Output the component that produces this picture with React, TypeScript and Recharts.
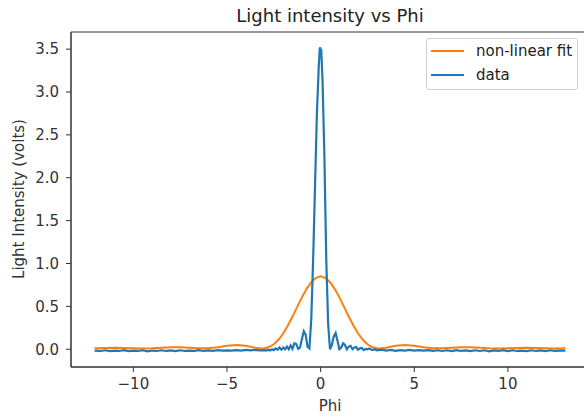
import React from 'react';
import { LineChart, Line, XAxis, YAxis, ReferenceArea } from 'recharts';

// measured data (blue)
const phiData = [
  -12.07, -11.75, -11.5, -11.25, -11.0, -10.75, -10.5, -10.25, -10.0, -9.75, -9.5, -9.25,
  -9.0, -8.75, -8.5, -8.25, -8.0, -7.75, -7.5, -7.25, -7.0, -6.75, -6.5, -6.25,
  -6.0, -5.75, -5.5, -5.25, -5.0, -4.75, -4.5, -4.25, -4.0, -3.75, -3.5, -3.25,
  -3.0, -2.9, -2.8, -2.7, -2.6, -2.5, -2.4, -2.3, -2.2, -2.1, -2.0, -1.9,
  -1.8, -1.7, -1.6, -1.5, -1.4, -1.3, -1.2, -1.1, -1.0, -0.9, -0.8, -0.7,
  -0.6, -0.5, -0.4, -0.3, -0.2, -0.1, -0.05, -0.02, 0.0, 0.03, 0.1, 0.2,
  0.3, 0.4, 0.5, 0.6, 0.7, 0.8, 0.9, 1.0, 1.1, 1.2, 1.3, 1.4,
  1.5, 1.6, 1.7, 1.8, 1.9, 2.0, 2.1, 2.2, 2.3, 2.4, 2.5, 2.6,
  2.75, 2.9, 3.0, 3.25, 3.5, 3.75, 4.0, 4.25, 4.5, 4.75, 5.0, 5.25,
  5.5, 5.75, 6.0, 6.25, 6.5, 6.75, 7.0, 7.25, 7.5, 7.75, 8.0, 8.25,
  8.5, 8.75, 9.0, 9.25, 9.5, 9.75, 10.0, 10.25, 10.5, 10.75, 11.0, 11.25,
  11.5, 11.75, 12.0, 12.25, 12.5, 12.75, 13.07,
];
const intensityData = [
  -0.015, -0.02, -0.012, -0.022, -0.015, -0.02, -0.01, -0.022, -0.016, -0.02, -0.012, -0.024,
  -0.015, -0.02, -0.012, -0.02, -0.014, -0.022, -0.012, -0.02, -0.015, -0.018, -0.01, -0.02,
  -0.013, -0.018, -0.01, -0.017, -0.012, -0.016, -0.01, -0.015, -0.008, -0.014, -0.008, -0.013,
  -0.01, -0.015, -0.005, -0.015, 0.0, -0.01, 0.01, -0.005, 0.02, -0.005, 0.02, 0.0,
  0.03, 0.0, 0.045, 0.005, 0.07, 0.06, 0.005, 0.02, 0.12, 0.21, 0.17, 0.03,
  0.01, 0.35, 1.05, 1.9, 2.75, 3.3, 3.5, 3.52, 3.45, 3.5, 3.15, 2.25,
  1.05, 0.3, 0.0, 0.05, 0.15, 0.19, 0.1, 0.0, 0.02, 0.07, 0.05, 0.0,
  0.03, 0.04, 0.0, 0.02, 0.025, -0.005, 0.01, 0.015, -0.01, 0.005, 0.0, 0.008,
  -0.01, 0.0, -0.012, -0.005, -0.015, -0.008, -0.018, -0.01, -0.015, -0.008, -0.016, -0.01,
  -0.017, -0.01, -0.018, -0.012, -0.02, -0.012, -0.022, -0.01, -0.02, -0.014, -0.022, -0.012,
  -0.02, -0.012, -0.024, -0.014, -0.02, -0.01, -0.022, -0.012, -0.02, -0.015, -0.022, -0.012,
  -0.02, -0.014, -0.022, -0.012, -0.02, -0.015, -0.016,
];

// non-linear fit (orange)
const phiFit = [
  -12.07, -11.5, -11.0, -10.5, -10.0, -9.5, -9.0, -8.5, -8.0, -7.5, -7.0, -6.5,
  -6.0, -5.5, -5.0, -4.5, -4.0, -3.5, -3.14, -3.0, -2.75, -2.5, -2.25, -2.0,
  -1.75, -1.5, -1.25, -1.0, -0.75, -0.5, -0.25, 0.0, 0.25, 0.5, 0.75, 1.0,
  1.25, 1.5, 1.75, 2.0, 2.25, 2.5, 2.75, 3.0, 3.14, 3.5, 4.0, 4.5,
  5.0, 5.5, 6.0, 6.5, 7.0, 7.5, 8.0, 8.5, 9.0, 9.5, 10.0, 10.5,
  11.0, 11.5, 12.0, 12.5, 13.07,
];
const intensityFit = [
  0.012, 0.015, 0.017, 0.016, 0.013, 0.010, 0.012, 0.017, 0.023, 0.023, 0.017, 0.011,
  0.012, 0.024, 0.041, 0.050, 0.040, 0.018, 0.010, 0.012, 0.026, 0.058, 0.110, 0.184,
  0.276, 0.381, 0.494, 0.605, 0.704, 0.782, 0.833, 0.850, 0.833, 0.782, 0.704, 0.605,
  0.494, 0.381, 0.276, 0.184, 0.110, 0.058, 0.026, 0.012, 0.010, 0.018, 0.040, 0.050,
  0.041, 0.024, 0.012, 0.011, 0.017, 0.023, 0.023, 0.017, 0.012, 0.010, 0.013, 0.016,
  0.017, 0.015, 0.012, 0.010, 0.011,
];

const xTicks = [-10, -5, 0, 5, 10];
const yTicks = [0, 0.5, 1, 1.5, 2, 2.5, 3, 3.5];

const measured = phiData.map((phi, i) => ({ phi, value: intensityData[i] }));
const fitted = phiFit.map((phi, i) => ({ phi, value: intensityFit[i] }));

const FONT = '"DejaVu Sans", sans-serif';
const AXIS = '#333';
const xDomain = [-13.33, 14.33];
const yDomain = [-0.207, 3.7];

const series = [
  { name: 'non-linear fit', color: '#ff7f0e' },
  { name: 'data', color: '#1f77b4' },
];

const fmtMinus = (v: number, digits: number) => v.toFixed(digits).replace('-', '\u2212');

export default function App() {
  return (
    <div style={{ position: 'absolute', left: 0, top: 0, width: 584, height: 418, overflow: 'hidden', background: '#fff' }}>
      <LineChart width={600} height={418} margin={{ top: 32, right: 11, bottom: 0, left: 0 }}>
        <XAxis
          dataKey="phi"
          type="number"
          domain={xDomain}
          ticks={xTicks}
          allowDataOverflow
          height={51}
          stroke={AXIS}
          tickSize={5}
          tickMargin={6}
          tick={{ fill: AXIS, fontSize: 15, fontFamily: FONT }}
          tickFormatter={(v: number) => fmtMinus(v, 0)}
        />
        <YAxis
          type="number"
          domain={yDomain}
          ticks={yTicks}
          allowDataOverflow
          width={71}
          stroke={AXIS}
          tickSize={5}
          tickMargin={7}
          tick={{ fill: AXIS, fontSize: 15, fontFamily: FONT }}
          tickFormatter={(v: number) => fmtMinus(v, 1)}
        />
        <ReferenceArea
          x1={xDomain[0]}
          x2={xDomain[1]}
          y1={yDomain[0]}
          y2={yDomain[1]}
          fill="none"
          fillOpacity={0}
          stroke={AXIS}
          strokeWidth={1}
          ifOverflow="visible"
        />
        <Line data={fitted} dataKey="value" name="non-linear fit" stroke="#ff7f0e" strokeWidth={2} dot={false} isAnimationActive={false} />
        <Line data={measured} dataKey="value" name="data" stroke="#1f77b4" strokeWidth={2.2} dot={false} isAnimationActive={false} />
      </LineChart>
      <div style={{ position: 'absolute', left: 71, width: 518, top: 5, textAlign: 'center', fontFamily: FONT, fontSize: 18, color: '#222' }}>
        Light intensity vs Phi
      </div>
      <div
        style={{
          position: 'absolute',
          left: 426,
          top: 38,
          border: '1px solid #d0d0d0',
          borderRadius: 3,
          background: 'rgba(255,255,255,0.8)',
          padding: '0px 5px 2px 4px',
          fontFamily: FONT,
          fontSize: 15,
          color: '#222',
        }}
      >
        {series.map((s) => (
          <div key={s.name} style={{ display: 'flex', alignItems: 'center', height: 24 }}>
            <span style={{ width: 33, height: 2, background: s.color, marginRight: 12 }} />
            <span>{s.name}</span>
          </div>
        ))}
      </div>
      <div style={{ position: 'absolute', left: 71, width: 518, top: 397, textAlign: 'center', fontFamily: FONT, fontSize: 15, color: '#333' }}>
        Phi
      </div>
      <div
        style={{
          position: 'absolute',
          left: 19,
          top: 199,
          transform: 'translate(-50%, -50%) rotate(-90deg)',
          whiteSpace: 'nowrap',
          fontFamily: FONT,
          fontSize: 15,
          color: '#333',
        }}
      >
        Light Intensity (volts)
      </div>
    </div>
  );
}
